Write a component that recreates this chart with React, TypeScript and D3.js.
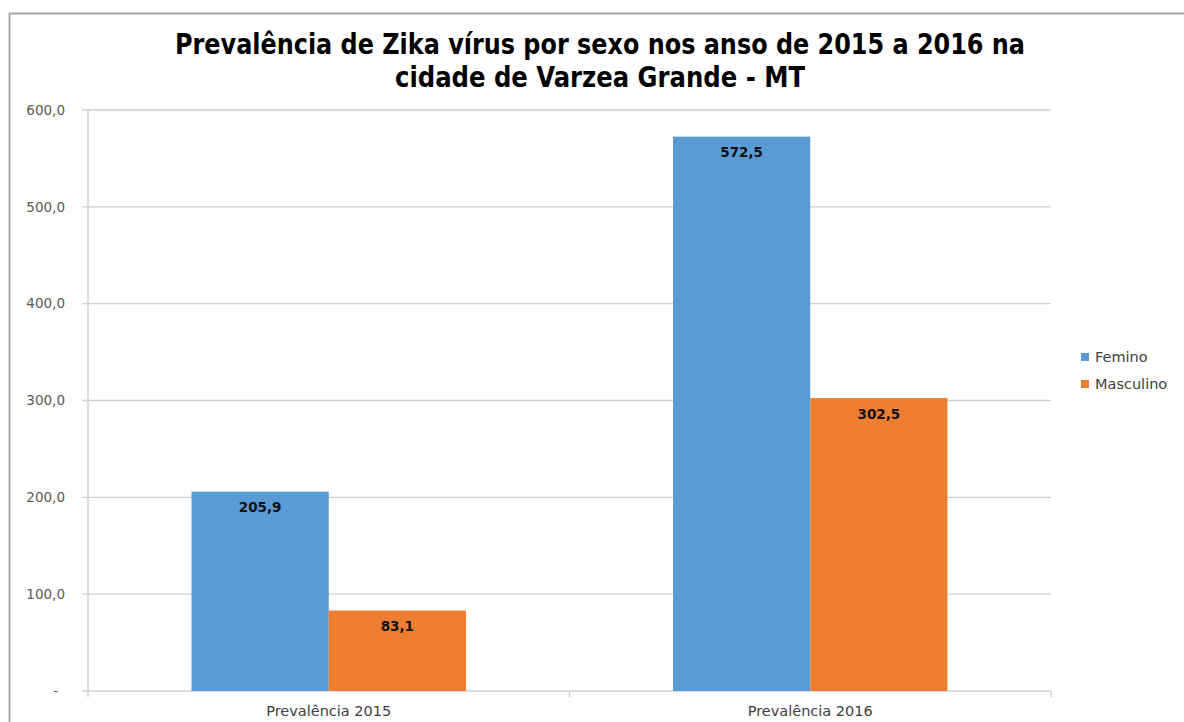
import React from "react";
import * as d3 from "d3";

const categories = ["Prevalência 2015", "Prevalência 2016"];
const seriesNames = ["Femino", "Masculino"];
const femino = [205.9, 572.5];
const masculino = [83.1, 302.5];
const yTicks = [0, 100, 200, 300, 400, 500, 600];
const colors = ["#5B9BD5", "#ED7D31"];
const titleLines = [
  "Prevalência de Zika vírus por sexo nos  anso de 2015 a 2016 na",
  "cidade de Varzea Grande - MT",
];

const W = 1184;
const H = 722;
const left = 88;
const right = 1051;
const top = 110;
const bottom = 691;
const FONT = "'DejaVu Sans', 'Open Sans', sans-serif";

const fmt = (v: number) => (v === 0 ? "-" : v.toFixed(1).replace(".", ","));

export default function App() {
  const x0 = d3
    .scaleBand<string>()
    .domain(categories)
    .range([left, right])
    .paddingInner(0.43)
    .paddingOuter(0.215);
  const x1 = d3
    .scaleBand<string>()
    .domain(seriesNames)
    .range([0, x0.bandwidth()])
    .padding(0);
  const y = d3.scaleLinear().domain([0, 600]).range([bottom, top]);
  const values = [femino, masculino];
  const step = x0.step();

  return (
    <div style={{ position: "fixed", left: 0, top: 0, width: W, height: H, background: "#fff" }}>
      <svg width={W} height={H} style={{ display: "block" }}>
        <rect x={0} y={0} width={W} height={H} fill="#fff" />
        {/* frame */}
        <line x1={9} y1={13.5} x2={W} y2={13.5} stroke="#A6A6A6" strokeWidth={2} />
        <line x1={9.5} y1={13} x2={9.5} y2={H} stroke="#A6A6A6" strokeWidth={2} />

        {/* title */}
        {titleLines.map((t, i) => (
          <text
            key={i}
            x={600}
            y={54 + i * 33}
            textAnchor="middle"
            fontFamily="'Liberation Sans Narrow', 'DejaVu Sans Condensed', sans-serif"
            fontWeight="bold"
            fontSize={28}
            fill="#000"
            textLength={i === 0 ? 850 : 410}
            lengthAdjust="spacingAndGlyphs"
          >
            {t}
          </text>
        ))}

        {/* gridlines and y ticks */}
        {yTicks.map((v) => (
          <g key={v}>
            <line x1={left - 6} x2={right} y1={y(v)} y2={y(v)} stroke="#D0D0D0" strokeWidth={1.3} />
            <text
              x={v === 0 ? 58 : 65}
              y={y(v)}
              dy="0.35em"
              textAnchor="end"
              fontFamily={FONT}
              fontSize={13.5}
              fill="#595959"
            >
              {fmt(v)}
            </text>
          </g>
        ))}
        {/* y axis line */}
        <line x1={left} x2={left} y1={top} y2={bottom + 6} stroke="#D0D0D0" strokeWidth={1.5} />
        {/* x category ticks */}
        {categories.map((c, i) => (
          <line
            key={c}
            x1={left + step * (i + 1)}
            x2={left + step * (i + 1)}
            y1={bottom}
            y2={bottom + 6}
            stroke="#D0D0D0"
            strokeWidth={1.5}
          />
        ))}

        {/* bars */}
        {categories.map((c, ci) => (
          <g key={c} transform={`translate(${x0(c)},0)`}>
            {seriesNames.map((s, si) => {
              const v = values[si][ci];
              const bx = x1(s) as number;
              return (
                <g key={s}>
                  <rect
                    x={bx}
                    y={y(v)}
                    width={x1.bandwidth()}
                    height={bottom - y(v)}
                    fill={colors[si]}
                  />
                  <text
                    x={bx + x1.bandwidth() / 2}
                    y={y(v) + 16}
                    dy="0.35em"
                    textAnchor="middle"
                    fontFamily={FONT}
                    fontWeight="bold"
                    fontSize={13.5}
                    fill="#111"
                  >
                    {fmt(v)}
                  </text>
                </g>
              );
            })}
            <text
              x={x0.bandwidth() / 2}
              y={716}
              textAnchor="middle"
              fontFamily={FONT}
              fontSize={14.5}
              fill="#404040"
            >
              {c}
            </text>
          </g>
        ))}

        {/* legend */}
        {seriesNames.map((s, i) => (
          <g key={s} transform={`translate(1081,${357 + i * 27})`}>
            <rect x={0} y={-4} width={8} height={8} fill={colors[i]} />
            <text
              x={14}
              y={0}
              dy="0.35em"
              fontFamily={FONT}
              fontSize={14.5}
              fill="#404040"
            >
              {s}
            </text>
          </g>
        ))}
      </svg>
    </div>
  );
}
